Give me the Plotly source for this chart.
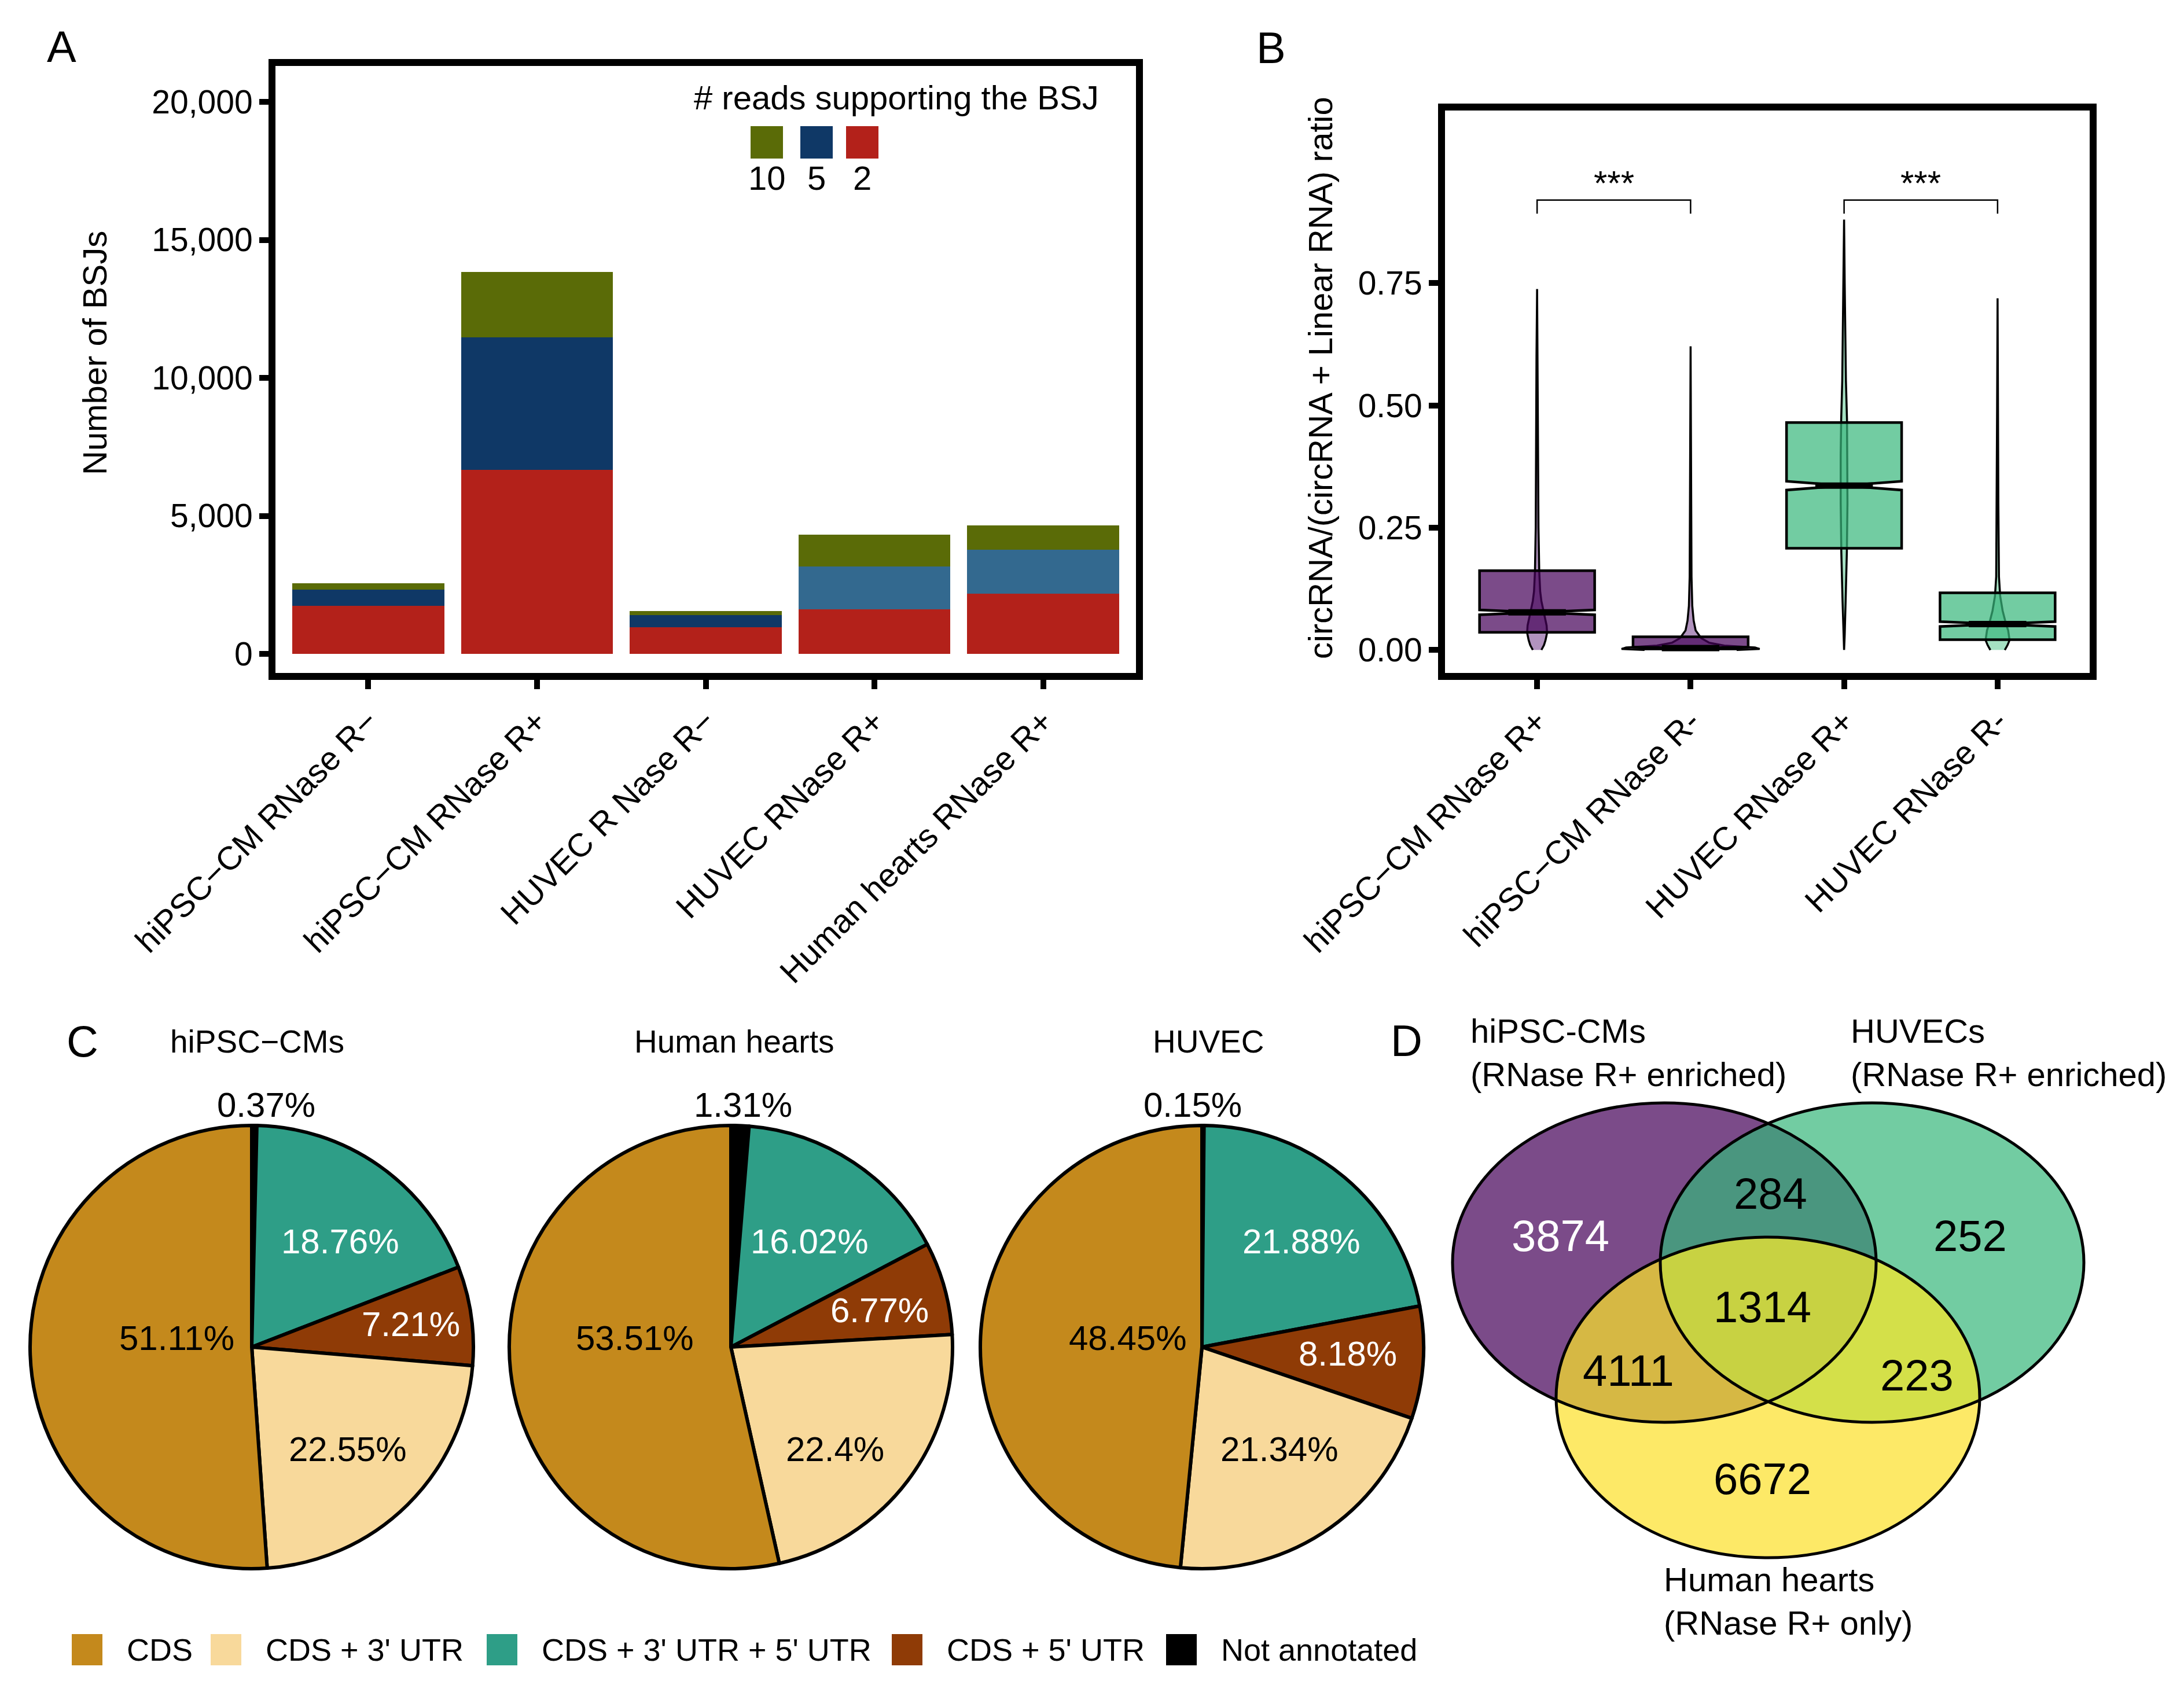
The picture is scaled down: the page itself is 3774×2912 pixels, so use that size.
import numpy as np
import plotly.graph_objects as go

W, H = 3774, 2912
FONT = "Liberation Sans"

# ---- A: number of BSJs per sample, split by supporting reads
bsj_samples = ["hiPSC−CM RNase R−", "hiPSC−CM RNase R+", "HUVEC R Nase R−",
               "HUVEC RNase R+", "Human hearts RNase R+"]
bsj_reads_2 = [1740, 6670, 960, 1610, 2180]
bsj_reads_5 = [580, 4800, 440, 1560, 1600]
bsj_reads_10 = [230, 2360, 160, 1140, 880]
bsj_ticks = [0, 5000, 10000, 15000, 20000]

# ---- B: circRNA/(circRNA + linear RNA) ratio
ratio_groups = ["hiPSC−CM RNase R+", "hiPSC−CM RNase R-", "HUVEC RNase R+", "HUVEC RNase R-"]
ratio_q1 = [0.036, 0.002, 0.208, 0.021]
ratio_median = [0.077, 0.004, 0.336, 0.053]
ratio_q3 = [0.162, 0.027, 0.465, 0.117]
ratio_notch = [0.005, 0.002, 0.009, 0.005]
ratio_ticks = [0.0, 0.25, 0.5, 0.75]
# violin outlines: ratio levels and half widths (category units)
violin_y = [
    [0.0, 0.01, 0.02, 0.035, 0.05, 0.077, 0.10, 0.12, 0.16, 0.25, 0.40, 0.60, 0.738],
    [0.0, 0.002, 0.005, 0.009, 0.015, 0.024, 0.04, 0.06, 0.09, 0.15, 0.30, 0.621],
    [0.0, 0.03, 0.10, 0.20, 0.30, 0.40, 0.47, 0.55, 0.65, 0.75, 0.88],
    [0.0, 0.01, 0.02, 0.04, 0.053, 0.08, 0.11, 0.15, 0.30, 0.50, 0.719],
]
violin_hw = [
    [0.028, 0.045, 0.055, 0.065, 0.062, 0.045, 0.028, 0.02, 0.014, 0.009, 0.006, 0.004, 0.0],
    [0.30, 0.45, 0.42, 0.22, 0.12, 0.07, 0.033, 0.02, 0.011, 0.006, 0.004, 0.0],
    [0.0, 0.004, 0.010, 0.018, 0.022, 0.022, 0.019, 0.012, 0.007, 0.004, 0.0],
    [0.047, 0.065, 0.078, 0.069, 0.055, 0.033, 0.017, 0.009, 0.005, 0.003, 0.0],
]
sig_pairs = [(0, 1), (2, 3)]
sig_labels = ["***", "***"]
sig_y = 0.92
sig_tip = 0.892

# ---- C: annotation of circRNAs
annot_types = ["CDS", "CDS + 3' UTR", "CDS + 3' UTR + 5' UTR", "CDS + 5' UTR", "Not annotated"]
pie_titles = ["hiPSC−CMs", "Human hearts", "HUVEC"]
pct_hipsc = [51.11, 22.55, 18.76, 7.21, 0.37]
pct_hearts = [53.51, 22.4, 16.02, 6.77, 1.31]
pct_huvec = [48.45, 21.34, 21.88, 8.18, 0.15]

# ---- D: overlap of circRNAs
venn_sets = ["hiPSC-CMs<br>(RNase R+ enriched)", "HUVECs<br>(RNase R+ enriched)",
             "Human hearts<br>(RNase R+ only)"]
venn_regions = ["hiPSC", "HUVEC", "hearts", "hiPSC+HUVEC", "hiPSC+hearts", "HUVEC+hearts", "all"]
venn_counts = [3874, 252, 6672, 284, 4111, 223, 1314]


def px(x):
    return x / W


def py(y):
    return 1 - y / H


def txt(x, y, s, size=58, color="black", **kw):
    kw.setdefault("xanchor", "center")
    kw.setdefault("yanchor", "middle")
    return dict(x=px(x), y=py(y), xref="paper", yref="paper", text=s, showarrow=False,
                font=dict(family=FONT, size=size, color=color), **kw)


fig = go.Figure()
annotations = []
shapes = []

# ------------------------------------------------------------------ A
bar_blue = ["#0f3866", "#0f3866", "#0f3866", "#33698f", "#33698f"]
for vals, col in [(bsj_reads_2, "#b3211a"), (bsj_reads_5, bar_blue), (bsj_reads_10, "#5a6b07")]:
    fig.add_trace(go.Bar(x=bsj_samples, y=vals, width=0.9, marker=dict(color=col, line_width=0),
                         xaxis="x", yaxis="y", showlegend=False))

# legend of panel A
annotations.append(txt(1541, 160, "# reads supporting the BSJ"))
for cx, col, lab in [(1317, "#5a6b07", "10"), (1403, "#0f3866", "5"), (1482, "#b3211a", "2")]:
    shapes.append(dict(type="rect", xref="paper", yref="paper", x0=px(cx - 28), x1=px(cx + 28),
                       y0=py(266), y1=py(210), fillcolor=col, line_width=0))
    annotations.append(txt(cx, 300, lab))
annotations.append(txt(156, 602, "Number of BSJs", textangle=-90))

# ------------------------------------------------------------------ B
violin_fill = ["rgba(100,40,125,0.5)", "rgba(100,40,125,0.5)",
               "rgba(75,195,135,0.5)", "rgba(75,195,135,0.5)"]
box_fill = ["rgba(69,1,89,0.71)", "rgba(69,1,89,0.71)",
            "rgba(56,183,124,0.71)", "rgba(56,183,124,0.71)"]

for i in range(len(ratio_groups)):
    ys = violin_y[i]
    hw = violin_hw[i]
    vx = [i + w for w in hw] + [i - w for w in hw[::-1]]
    vy = ys + ys[::-1]
    fig.add_trace(go.Scatter(x=vx, y=vy, mode="lines", fill="toself", fillcolor=violin_fill[i],
                             line=dict(color="black", width=3.5), xaxis="x2", yaxis="y2",
                             showlegend=False, hoverinfo="skip"))

for i in range(len(ratio_groups)):
    fig.add_trace(go.Box(x=[i], q1=[ratio_q1[i]], median=[ratio_median[i]], q3=[ratio_q3[i]],
                         lowerfence=[ratio_q1[i]], upperfence=[ratio_q3[i]],
                         notched=True, notchspan=[ratio_notch[i]], notchwidth=0.5,
                         width=0.75, whiskerwidth=0, boxpoints=False,
                         fillcolor=box_fill[i], line=dict(color="black", width=4.5),
                         xaxis="x3", yaxis="y3", showlegend=False))
    fig.add_trace(go.Scatter(x=[i - 0.1875, i + 0.1875], y=[ratio_median[i]] * 2, mode="lines",
                             line=dict(color="black", width=11), xaxis="x3", yaxis="y3",
                             showlegend=False, hoverinfo="skip"))

for (a, b), lab in zip(sig_pairs, sig_labels):
    fig.add_trace(go.Scatter(x=[a, a, b, b], y=[sig_tip, sig_y, sig_y, sig_tip], mode="lines",
                             line=dict(color="black", width=2.5), xaxis="x3", yaxis="y3",
                             showlegend=False, hoverinfo="skip"))
    annotations.append(dict(x=(a + b) / 2, y=sig_y, xref="x3", yref="y3", text=lab,
                            showarrow=False, xanchor="center", yanchor="bottom", yshift=-6,
                            font=dict(family=FONT, size=60, color="black")))
annotations.append(txt(2273, 645, "circRNA/(circRNA + Linear RNA) ratio", textangle=-90))

# ------------------------------------------------------------------ C
annot_colors = ["#c4891c", "#f8d99b", "#2e9e87", "#8f3b06", "#000000"]
annot_text_colors = ["black", "black", "white", "white", "black"]
pie_order = [4, 2, 3, 1, 0]  # clockwise from 12 o'clock
pie_centers = [427, 1255, 2069]
pie_r = 383
pie_cy = 2320
# label anchor points (px) for CDS, 3' UTR, 3'+5' UTR, 5' UTR, not annotated
label_pos = [
    [(297, 2304), (593, 2496), (580, 2137), (702, 2280), (452, 1901)],
    [(1089, 2304), (1435, 2496), (1391, 2137), (1512, 2256), (1276, 1901)],
    [(1941, 2304), (2203, 2496), (2241, 2137), (2321, 2331), (2053, 1901)],
]

for k, pct in enumerate([pct_hipsc, pct_hearts, pct_huvec]):
    cx = pie_centers[k]
    fig.add_trace(go.Pie(
        labels=[annot_types[j] for j in pie_order],
        values=[pct[j] for j in pie_order],
        textinfo="none",
        marker=dict(colors=[annot_colors[j] for j in pie_order], line=dict(color="black", width=6)),
        sort=False, direction="clockwise", rotation=0,
        domain=dict(x=[px(cx - pie_r), px(cx + pie_r)], y=[py(pie_cy + pie_r), py(pie_cy - pie_r)]),
        showlegend=False, hoverinfo="skip"))
    annotations.append(txt([436, 1260, 2080][k], 1792, pie_titles[k], size=55))
    for j in range(len(annot_types)):
        x, y = label_pos[k][j]
        annotations.append(txt(x, y, f"{pct[j]}%", size=60, color=annot_text_colors[j]))

# legend of panel C
leg_sq = [116, 356, 833, 1533, 2007]
for j, lab in enumerate(annot_types):
    shapes.append(dict(type="rect", xref="paper", yref="paper", x0=px(leg_sq[j]), x1=px(leg_sq[j] + 53),
                       y0=py(2870), y1=py(2816), fillcolor=annot_colors[j], line_width=0))
    annotations.append(txt(leg_sq[j] + 93, 2843, lab, size=54, xanchor="left"))

# ------------------------------------------------------------------ D
ellipses = [(2868, 2174, 366, 276), (3227, 2174, 366, 276), (3047, 2407, 366, 277)]
set_fill = ["#7b4b89", "#72cca2", "#fde967"]
region_fill = {(0, 1): "#4a967f", (0, 2): "#d6b844", (1, 2): "#d4e049", (0, 1, 2): "#c8d242"}


def ellipse_pts(e, n=900):
    t = np.linspace(0, 2 * np.pi, n, endpoint=False)
    return np.c_[e[0] + e[2] * np.cos(t), e[1] + e[3] * np.sin(t)]


def inside(p, e):
    return ((p[:, 0] - e[0]) / e[2]) ** 2 + ((p[:, 1] - e[1]) / e[3]) ** 2 <= 1.0000001


def region_path(members):
    pts = []
    for k in members:
        p = ellipse_pts(ellipses[k])
        mask = np.ones(len(p), bool)
        for j in members:
            if j != k:
                mask &= inside(p, ellipses[j])
        pts.append(p[mask])
    pts = np.vstack(pts)
    c = pts.mean(axis=0)
    pts = pts[np.argsort(np.arctan2(pts[:, 1] - c[1], pts[:, 0] - c[0]))]
    return "M" + "L".join(f"{px(x):.6f},{py(y):.6f}" for x, y in pts) + "Z"


for k, e in enumerate(ellipses):
    shapes.append(dict(type="circle", xref="paper", yref="paper", x0=px(e[0] - e[2]), x1=px(e[0] + e[2]),
                       y0=py(e[1] + e[3]), y1=py(e[1] - e[3]), fillcolor=set_fill[k], line_width=0))
for members, col in region_fill.items():
    shapes.append(dict(type="path", xref="paper", yref="paper", path=region_path(members),
                       fillcolor=col, line_width=0))
for e in ellipses:
    shapes.append(dict(type="circle", xref="paper", yref="paper", x0=px(e[0] - e[2]), x1=px(e[0] + e[2]),
                       y0=py(e[1] + e[3]), y1=py(e[1] - e[3]), line=dict(color="black", width=5)))

count_pos = [(2688, 2127), (3396, 2127), (3037, 2547), (3051, 2054), (2806, 2360), (3304, 2368), (3037, 2250)]
for (x, y), n, reg in zip(count_pos, venn_counts, venn_regions):
    annotations.append(txt(x, y, str(n), size=76, color="white" if reg == "hiPSC" else "black"))
for (x, y), lab in zip([(2531, 1811), (3188, 1811), (2865, 2759)], venn_sets):
    annotations.append(txt(x, y, lab, size=58, xanchor="left", align="left"))

# panel letters
for (x, y), lab in zip([(98, 72), (2188, 74), (134, 1791), (2422, 1790)], "ABCD"):
    annotations.append(txt(x, y, lab, size=76))

axis_style = dict(showline=True, linewidth=12, linecolor="black", mirror=True, showgrid=False,
                  zeroline=False, ticks="outside", tickwidth=10, ticklen=16, tickcolor="black",
                  automargin=False, tickfont=dict(family=FONT, size=57, color="black"))

fig.update_layout(
    width=W, height=H, autosize=False,
    margin=dict(l=0, r=0, t=0, b=0, autoexpand=False),
    paper_bgcolor="white", plot_bgcolor="white",
    barmode="stack", boxmode="overlay",
    xaxis=dict(domain=[px(468), px(1955)], range=[-0.55, 4.55], tickangle=-45, anchor="y", **axis_style),
    yaxis=dict(domain=[py(1155), py(106)], range=[-692, 21300], tickvals=bsj_ticks, tickformat=",d",
               anchor="x", **axis_style),
    xaxis2=dict(domain=[px(2489), px(3603)], range=[-0.6, 3.6], tickvals=list(range(len(ratio_groups))),
                ticktext=ratio_groups, tickangle=-45, anchor="y2", **axis_style),
    yaxis2=dict(domain=[py(1155), py(183)], range=[-0.047, 1.103], tickvals=ratio_ticks, tickformat=".2f",
                anchor="x2", **axis_style),
    xaxis3=dict(overlaying="x2", range=[-0.6, 3.6], visible=False, anchor="y3", automargin=False),
    yaxis3=dict(overlaying="y2", range=[-0.047, 1.103], visible=False, anchor="x3", automargin=False),
    annotations=annotations,
    shapes=shapes,
    font=dict(family=FONT, color="black"),
)

fig.write_html("out.html")
